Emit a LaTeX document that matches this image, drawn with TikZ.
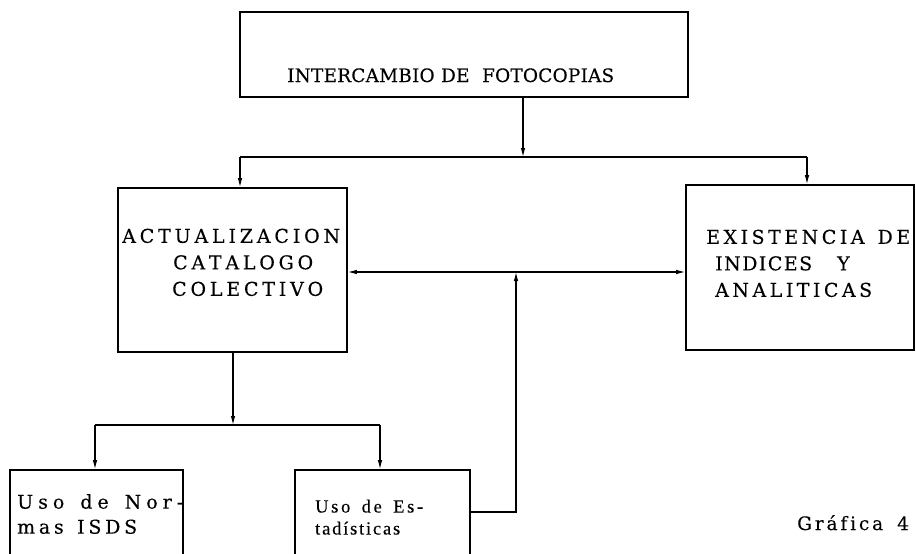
\documentclass[tikz,border=0pt]{standalone}
\usepackage{fontspec}
\setmainfont{DejaVu Serif}[FakeBold=0.2]
\newfontfamily\estfont{Liberation Serif}[FakeBold=0.2]
\makeatletter
\newcommand\spread[2]{\makebox[#1][s]{\spread@#2\@nil}}
\def\spread@#1#2{\ifx|#1\hskip 6pt\relax\else#1\fi
  \ifx\@nil#2\else\hskip 0pt plus 1fil\relax\expandafter\spread@\expandafter#2\fi}
\makeatother
\usetikzlibrary{arrows.meta}
\begin{document}
\begin{tikzpicture}[x=1pt,y=-1pt,
  box/.style={draw, line width=1.6pt, inner sep=0pt},
  conn/.style={line width=1.1pt},
  arr/.style={conn, -{Latex[length=9pt,width=4.5pt]}},
  lbl/.style={font=\fontsize{19}{26.5}\selectfont, inner sep=0pt},
  toplbl/.style={font=\fontsize{18.5}{22}\selectfont, inner sep=0pt},
  bot/.style={font=\fontsize{19}{25}\selectfont, inner sep=0pt, align=left, anchor=north west},
  est/.style={font=\estfont\fontsize{18.5}{22}\selectfont, inner sep=0pt, align=left, anchor=north west}]
\useasboundingbox (0,0) rectangle (916,554);
\clip (0,0) rectangle (916,554);
% boxes
\node[box, minimum width=448pt, minimum height=85pt] (top) at (464,54.5) {};
\node[toplbl, anchor=base west] (toptext) at (287,82) {\spread{327pt}{INTERCAMBIO|DE||FOTOCOPIAS}};
\node[box, minimum width=229pt, minimum height=164pt] (act) at (232.5,270) {};
\node[lbl, align=left, anchor=north west] (acttext) at (122,228.5)
  {\spread{218pt}{ACTUALIZACION}\\\hspace*{51pt}\spread{140pt}{CATALOGO}\\\hspace*{50pt}\spread{151pt}{COLECTIVO}};
\node[box, minimum width=228pt, minimum height=165pt] (exi) at (800,267.5) {};
\node[lbl, align=left, anchor=north west] (exitext) at (706,229.5)
  {\spread{204pt}{EXISTENCIA|DE}\\\hspace*{9pt}\makebox[122pt][l]{\spread{97pt}{INDICES}}Y\\\hspace*{9pt}\spread{157pt}{ANALITICAS}};
\node[box, minimum width=173pt, minimum height=130pt] (nor) at (96.5,535) {};
\node[bot] (nortext) at (17,494)
  {\spread{166pt}{Uso|de|Nor-}\\\spread{120pt}{mas|ISDS}};
\node[box, minimum width=175pt, minimum height=130pt] (est) at (382.5,535) {};
\node[est] (esttext) at (315,499.5)
  {\spread{108pt}{Uso|de|Es-}\\\spread{85pt}{tadísticas}};
\node[font=\fontsize{18.5}{20}\selectfont, anchor=base west, inner sep=0pt] (graf) at (797,530)
  {\makebox[100pt][l]{\spread{86pt}{Gráfica}}4};
% junction coordinates
\coordinate (j1) at (523,157);
\coordinate (jL) at (240,157);
\coordinate (jR) at (807,157);
\coordinate (m) at (516,272);
\coordinate (q) at (516,512);
\coordinate (j2) at (233,425);
\coordinate (j2L) at (95,425);
\coordinate (j2R) at (380,425);
% connectors
\draw[arr] (j1 |- top.south) -- (j1);
\draw[conn] (jL) -- (jR);
\draw[arr] (jL) -- (jL |- act.north);
\draw[arr] (jR) -- (jR |- exi.north);
\draw[arr] (m) -- (m -| act.east);
\draw[arr] (m) -- (m -| exi.west);
\draw[arr] (q -| est.east) -- (q) -- (m);
\draw[arr] (j2 |- act.south) -- (j2);
\draw[conn] (j2L) -- (j2R);
\draw[arr] (j2L) -- (j2L |- nor.north);
\draw[arr] (j2R) -- (j2R |- est.north);
\end{tikzpicture}
\end{document}
